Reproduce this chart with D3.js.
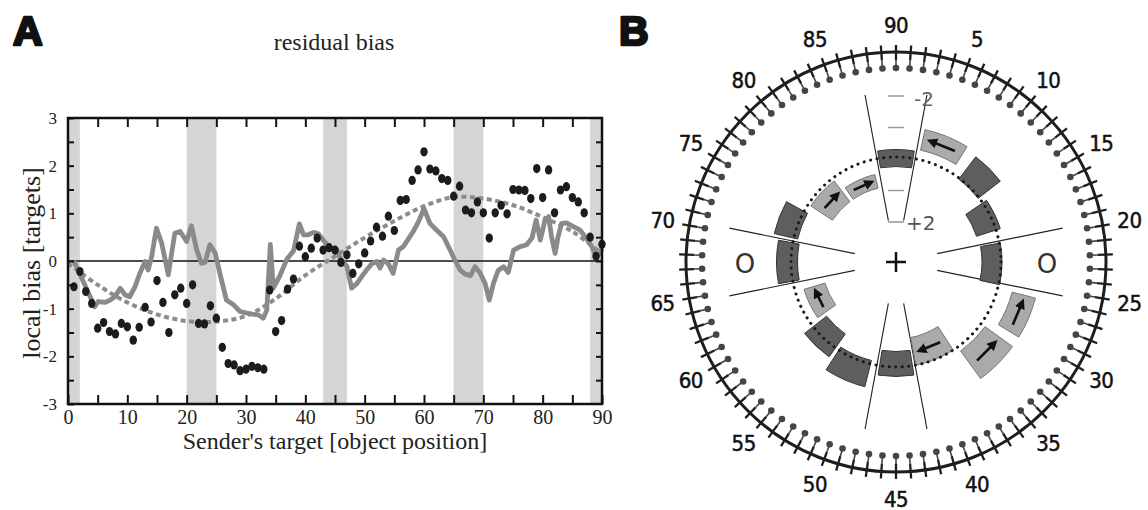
<!DOCTYPE html>
<html>
<head>
<meta charset="utf-8">
<script src="https://cdn.jsdelivr.net/npm/d3@7"></script>
<style>
  body { margin: 0; background: #fff; }
  svg { display: block; }
</style>
</head>
<body>
<svg id="chart" width="1148" height="510"></svg>
<script>
// ---- panel A: residual bias ----
const positions = d3.range(1, 91);
const dotBias = [
  -0.54, -0.22, -0.64, -0.89, -1.41, -1.29, -1.48, -1.53, -1.31, -1.38,
  -1.66, -1.39, -0.97, -1.28, -0.41, -0.87, -1.50, -0.71, -0.57, -0.89,
  -0.50, -1.31, -1.32, -0.94, -1.20, -1.81, -2.15, -2.18, -2.30, -2.27,
  -2.21, -2.24, -2.27, -0.61, -1.48, -1.25, -0.59, -0.38, 0.31, 0.09,
  0.27, 0.48, 0.23, 0.28, 0.23, -0.03, 0.13, -0.26, -0.06, 0.17,
  0.42, 0.71, 0.52, 0.94, 0.64, 1.27, 1.29, 1.69, 1.91, 2.29,
  1.93, 1.89, 1.73, 1.69, 1.36, 1.57, 1.07, 1.01, 1.24, 1.01,
  0.48, 1.01, 1.17, 0.99, 1.50, 1.49, 1.48, 1.31, 1.94, 1.33,
  1.91, 1.01, 1.49, 1.56, 1.33, 1.24, 1.01, 0.50, 0.10, 0.35
];
// grey solid line (traced)
const lineX = [1, 4.5, 5.1, 6.2, 7.1, 7.9, 8.8, 9.6, 10.4, 11.3, 12.1, 13.0, 13.5, 14.1, 14.9, 15.8,
  16.9, 18.0, 18.9, 20.0, 20.8, 21.7, 22.5, 23.1, 23.9, 24.8, 25.6, 26.7, 27.9, 29.0, 30.7, 32.1,
  32.9, 33.5, 34.1, 34.6, 35.7, 36.9, 38.0, 39.0, 39.7, 40.5, 41.4, 42.2, 43.0, 43.9, 45.3, 46.1,
  47.0, 47.8, 48.7, 49.5, 50.3, 51.2, 52.0, 52.6, 53.2, 54.0, 54.8, 55.7, 56.5, 57.4, 58.2, 59.1,
  60.0, 61.0, 62.1, 63.3, 64.4, 65.2, 66.1, 66.9, 67.8, 68.6, 69.4, 70.3, 71.0, 71.7, 72.5, 73.4,
  74.2, 75.1, 76.2, 77.3, 78.2, 78.9, 79.6, 80.4, 81.0, 81.5, 82.1, 82.6, 83.2, 84.0, 85.2, 86.3,
  87.4, 88.3, 89.0, 89.6, 90.0];
const lineY = [0.0, -0.96, -0.85, -0.87, -0.82, -0.75, -0.57, -0.71, -0.75, -0.54, -0.26, -0.01, -0.19, 0.09, 0.69, 0.37,
  -0.29, 0.58, 0.62, 0.41, 0.74, 0.23, -0.05, -0.03, 0.34, 0.17, -0.26, -0.82, -0.92, -1.06, -1.11, -1.13,
  -1.20, -1.03, 0.35, -0.57, -0.31, 0.04, 0.21, 0.78, 0.55, 0.55, 0.60, 0.57, 0.44, 0.30, 0.23, 0.00,
  -0.11, -0.57, -0.47, -0.33, -0.19, -0.06, -0.01, -0.15, 0.02, -0.06, -0.26, 0.23, 0.30, 0.47, 0.62, 0.83,
  1.10, 0.79, 0.65, 0.51, 0.23, 0.02, -0.19, -0.27, -0.31, -0.12, -0.24, -0.47, -0.82, -0.47, -0.20, -0.12,
  -0.24, 0.23, 0.30, 0.34, 0.48, 0.86, 0.44, 0.86, 0.93, 0.51, 0.16, 0.51, 0.79, 0.80, 0.72, 0.65,
  0.47, 0.30, 0.09, 0.16, 0.26];
// grey dotted fit curve
const fitX = [0, 5, 10, 15, 20, 25, 30, 35, 40, 45, 50, 55, 60, 65, 70, 75, 80, 85, 90];
const fitY = [-0.05, -0.50, -0.87, -1.12, -1.26, -1.27, -1.15, -0.79, -0.30, 0.10, 0.49, 0.84, 1.15, 1.34, 1.31, 1.17, 0.92, 0.62, 0.15];
const shadedBands = [[0, 2], [20, 25], [43, 47], [65, 70], [88, 90]];
const xTickLabels = [0, 10, 20, 30, 40, 50, 60, 70, 80, 90];
const yTickLabels = [3, 2, 1, 0, -1, -2, -3];

// ---- panel B: target ring ----
const ringPositions = d3.range(1, 91);
const ringLabels = [5, 10, 15, 20, 25, 30, 35, 40, 45, 50, 55, 60, 65, 70, 75, 80, 85, 90];
const windowAngles = [0, 90, 180, 270];
const windowHalf = [10.5, 11.5, 10.5, 11.5];
const scaleSteps = [-2, -1, 1, 2];
const tileAngle  = [0, 22, 44.7, 64, 91, 113, 135, 158, 180, 203.5, 223.6, 244, 270, 291, 313, 336];
const tileRadius = [104, 125, 118, 97, 96, 132, 127, 91, 102, 115, 102, 85, 109, 113, 89, 83];
const tileWidth  = [34, 42, 31, 28, 38, 39, 40, 35, 32, 38, 30, 28, 40, 31, 30, 30];
const tileDepth  = [17, 21, 28, 25, 20, 24, 34, 28, 25, 27, 28, 22, 21, 24, 26, 14];
const tileShade  = ["dark", "light", "dark", "dark", "dark", "light", "light", "light", "dark", "dark", "dark", "light", "dark", "dark", "light", "light"];
const tileArrow  = [0, -1, 0, 0, 0, -1, -1, 1, 0, 0, 0, 1, 0, 0, 1, 1];

const svg = d3.select("#chart");
const serif = "'Liberation Serif', 'Times New Roman', serif";
const sans = "'DejaVu Sans', sans-serif";

// panel letters
["A", "B"].forEach((s, i) => {
  svg.append("text").attr("x", i ? 619 : 13).attr("y", 45).text(s)
    .attr("font-family", "'Liberation Sans', Arial, sans-serif").attr("font-weight", "bold")
    .attr("font-size", 41).attr("fill", "#111").attr("stroke", "#111")
    .attr("stroke-width", 2.6).attr("stroke-linejoin", "round");
});

// ===== panel A =====
const x = d3.scaleLinear().domain([0, 90]).range([68, 602]);
const y = d3.scaleLinear().domain([-3, 3]).range([404, 118]);
const gA = svg.append("g");

gA.append("text").attr("x", 334).attr("y", 50).attr("text-anchor", "middle")
  .attr("font-family", serif).attr("font-size", 24).attr("fill", "#222").text("residual bias");

gA.append("g").selectAll("rect").data(shadedBands).join("rect")
  .attr("x", d => x(d[0])).attr("width", d => x(d[1]) - x(d[0]))
  .attr("y", y(3)).attr("height", y(-3) - y(3)).attr("fill", "#d5d5d5");

gA.append("line").attr("x1", x(0)).attr("x2", x(90)).attr("y1", y(0)).attr("y2", y(0))
  .attr("stroke", "#111").attr("stroke-width", 1.5);

const fitLine = d3.line().x((d, i) => x(fitX[i])).y(d => y(d)).curve(d3.curveCatmullRom);
gA.append("path").attr("d", fitLine(fitY)).attr("fill", "none")
  .attr("stroke", "#8c8c8c").attr("stroke-width", 4).attr("stroke-dasharray", "5 3.5");

const biasLine = d3.line().x((d, i) => x(lineX[i])).y(d => y(d));
gA.append("path").attr("d", biasLine(lineY)).attr("fill", "none")
  .attr("stroke", "#8a8a8a").attr("stroke-width", 4.8).attr("stroke-linejoin", "round");

gA.append("g").selectAll("ellipse").data(dotBias).join("ellipse")
  .attr("cx", (d, i) => x(positions[i])).attr("cy", d => y(d))
  .attr("rx", 3.7).attr("ry", 4.6).attr("fill", "#1c1c1c");

// axes with inward ticks
const axStyle = g => {
  g.select(".domain").remove();
  g.selectAll(".tick line").attr("stroke", "#111").attr("stroke-width", 2);
  g.selectAll(".tick text").attr("font-family", serif).attr("fill", "#222");
};
gA.append("g").attr("transform", `translate(0,${y(-3)})`)
  .call(d3.axisBottom(x).tickValues(d3.range(0, 91, 5)).tickSize(-9).tickPadding(6)
    .tickFormat(d => xTickLabels.includes(d) ? String(d) : ""))
  .call(axStyle).call(g => g.selectAll(".tick text").attr("font-size", 20));
gA.append("g").attr("transform", `translate(0,${y(3)})`)
  .call(d3.axisTop(x).tickValues(d3.range(5, 90, 5)).tickSize(-9).tickFormat(""))
  .call(axStyle);
gA.append("g").attr("transform", `translate(${x(0)},0)`)
  .call(d3.axisLeft(y).tickValues(d3.range(-3, 3.01, 0.5)).tickSize(-6).tickPadding(11)
    .tickFormat(d => yTickLabels.includes(d) ? String(d) : ""))
  .call(axStyle).call(g => g.selectAll(".tick text").attr("font-size", 17));
gA.append("g").attr("transform", `translate(${x(90)},0)`)
  .call(d3.axisRight(y).tickValues(d3.range(-2.5, 3, 0.5)).tickSize(-6).tickFormat(""))
  .call(axStyle);

gA.append("rect").attr("x", x(0)).attr("y", y(3)).attr("width", x(90) - x(0)).attr("height", y(-3) - y(3))
  .attr("fill", "none").attr("stroke", "#111").attr("stroke-width", 2.5);

gA.append("text").attr("x", (x(0) + x(90)) / 2).attr("y", 449).attr("text-anchor", "middle")
  .attr("font-family", serif).attr("font-size", 24).attr("fill", "#222")
  .text("Sender's target [object position]");
gA.append("text").attr("transform", `translate(40,${y(0) + 2}) rotate(-90)`).attr("text-anchor", "middle")
  .attr("font-family", serif).attr("font-size", 26).attr("fill", "#222")
  .text("local bias [targets]");

// ===== panel B =====
const cx = 896, cy = 262;
const gB = svg.append("g").attr("transform", `translate(${cx},${cy})`);
const ang = d3.scaleLinear().domain([0, 90]).range([0, 2 * Math.PI]);
const rad = deg => deg * Math.PI / 180;
const pt = (a, r) => [r * Math.sin(a), -r * Math.cos(a)];

const defs = svg.append("defs");
defs.append("marker").attr("id", "ah").attr("viewBox", "0 0 10 10")
  .attr("refX", 6).attr("refY", 5).attr("markerWidth", 4).attr("markerHeight", 4)
  .attr("orient", "auto")
  .append("path").attr("d", "M0,0 L10,5 L0,10 z").attr("fill", "#111");

// outer ring
gB.append("circle").attr("r", 210).attr("fill", "none").attr("stroke", "#1e1e1e").attr("stroke-width", 3);
const ringG = gB.append("g");
ringG.selectAll("line.tick").data(ringPositions).join("line").attr("class", "tick")
  .attr("x1", d => pt(ang(d), 202)[0]).attr("y1", d => pt(ang(d), 202)[1])
  .attr("x2", d => pt(ang(d), 217)[0]).attr("y2", d => pt(ang(d), 217)[1])
  .attr("stroke", "#1e1e1e").attr("stroke-width", 2.3);
ringG.selectAll("line.stem").data(ringPositions).join("line").attr("class", "stem")
  .attr("x1", d => pt(ang(d), 202)[0]).attr("y1", d => pt(ang(d), 202)[1])
  .attr("x2", d => pt(ang(d), 195)[0]).attr("y2", d => pt(ang(d), 195)[1])
  .attr("stroke", "#444").attr("stroke-width", 1.6);
ringG.selectAll("circle.pin").data(ringPositions).join("circle").attr("class", "pin")
  .attr("cx", d => pt(ang(d), 194)[0]).attr("cy", d => pt(ang(d), 194)[1])
  .attr("r", 3.3).attr("fill", "#454545");

gB.append("g").selectAll("text").data(ringLabels).join("text")
  .attr("x", d => pt(ang(d), 237)[0]).attr("y", d => pt(ang(d), 237)[1])
  .attr("text-anchor", "middle").attr("dominant-baseline", "central")
  .attr("font-family", "'DejaVu Sans Condensed', 'DejaVu Sans', sans-serif")
  .attr("font-size", 22).attr("letter-spacing", -0.5).attr("fill", "#111")
  .attr("stroke", "#111").attr("stroke-width", 0.5)
  .text(d => d);

// viewing windows
windowAngles.forEach((a, i) => {
  [-1, 1].forEach(s => {
    const t = rad(a + s * windowHalf[i]);
    const p0 = pt(t, 42), p1 = pt(t, 170);
    gB.append("line").attr("x1", p0[0]).attr("y1", p0[1]).attr("x2", p1[0]).attr("y2", p1[1])
      .attr("stroke", "#222").attr("stroke-width", 1.1);
  });
});

// bias scale in the top window
const sy = d3.scaleLinear().domain([-2, 2]).range([-166, -40]);
gB.append("g").selectAll("line").data(scaleSteps).join("line")
  .attr("x1", -8).attr("x2", 8).attr("y1", d => sy(d)).attr("y2", d => sy(d))
  .attr("stroke", "#999").attr("stroke-width", 1.5);
gB.append("text").attr("x", 18).attr("y", sy(-2) + 3).attr("dominant-baseline", "central")
  .attr("font-family", sans).attr("font-size", 20).attr("fill", "#666").text("-2");
gB.append("text").attr("x", 10).attr("y", sy(2) + 1).attr("dominant-baseline", "central")
  .attr("font-family", sans).attr("font-size", 20).attr("fill", "#555").text("+2");

// tiles
const tileArc = d3.arc();
const tiles = tileAngle.map((a, i) => ({
  a: rad(a), r: tileRadius[i], w: tileWidth[i], t: tileDepth[i], shade: tileShade[i], dir: tileArrow[i]
}));
gB.append("g").selectAll("path").data(tiles).join("path")
  .attr("d", d => tileArc({
    innerRadius: d.r - d.t / 2, outerRadius: d.r + d.t / 2,
    startAngle: d.a - d.w / 2 / d.r, endAngle: d.a + d.w / 2 / d.r
  }))
  .attr("fill", d => d.shade === "dark" ? "#5e5e5e" : "#aaaaaa")
  .attr("stroke", d => d.shade === "dark" ? "#333" : "#777")
  .attr("stroke-width", 1);

// dotted reference circle
gB.append("circle").attr("r", 105).attr("fill", "none").attr("stroke", "#1a1a1a")
  .attr("stroke-width", 3).attr("stroke-linecap", "round").attr("stroke-dasharray", "0.1 6.5");

// motion arrows
gB.append("g").selectAll("line").data(tiles.filter(d => d.dir !== 0)).join("line")
  .each(function (d) {
    const [mx, my] = pt(d.a, d.r);
    const L = d.w * 0.62 / 2;
    const ux = Math.cos(d.a) * d.dir, uy = Math.sin(d.a) * d.dir;
    d3.select(this).attr("x1", mx - ux * L).attr("y1", my - uy * L)
      .attr("x2", mx + ux * L).attr("y2", my + uy * L);
  })
  .attr("stroke", "#111").attr("stroke-width", 2.6).attr("marker-end", "url(#ah)");

// centre cross and object markers
gB.append("line").attr("x1", -10).attr("x2", 10).attr("y1", 0).attr("y2", 0).attr("stroke", "#111").attr("stroke-width", 2.5);
gB.append("line").attr("x1", 0).attr("x2", 0).attr("y1", -10).attr("y2", 10).attr("stroke", "#111").attr("stroke-width", 2.5);
[90, 270].forEach(a => {
  const p = pt(rad(a), 151);
  gB.append("text").attr("x", p[0]).attr("y", p[1] + 2).attr("text-anchor", "middle")
    .attr("dominant-baseline", "central").attr("font-family", sans).attr("font-size", 26)
    .attr("fill", "#333").text("O");
});
</script>
</body>
</html>
